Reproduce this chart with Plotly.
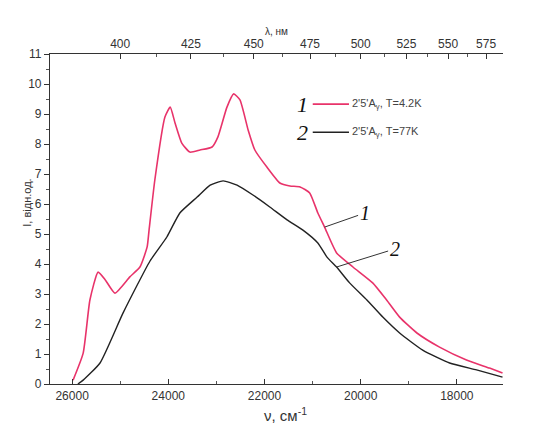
import plotly.graph_objects as go

# Luminescence spectra, wavenumber (cm^-1) vs intensity (arb. units)
nu_42K = [25980, 25770, 25630, 25460, 25310, 25110, 24800, 24590, 24440, 24400,
          24280, 24070, 23960, 23860, 23720, 23550, 23340, 23090, 22970, 22780,
          22640, 22510, 22340, 22200, 21950, 21680, 21470, 21260, 21060, 20890,
          20750, 20500, 20160, 19750, 19460, 19190, 18830, 18360, 17800, 17320,
          17050]
i_42K = [0.13, 1.03, 2.8, 3.73, 3.47, 3.03, 3.57, 3.9, 4.57, 5.13,
         6.8, 8.9, 9.23, 8.7, 8.03, 7.73, 7.8, 7.9, 8.23, 9.23,
         9.67, 9.47, 8.47, 7.8, 7.23, 6.7, 6.6, 6.57, 6.37, 5.7,
         5.23, 4.37, 3.9, 3.37, 2.8, 2.23, 1.7, 1.23, 0.8, 0.53,
         0.37]

nu_77K = [25880, 25770, 25420, 24940, 24380, 24030, 23760, 23400, 23130, 22860,
          22570, 22240, 21890, 21530, 21200, 20890, 20700, 20500, 20230, 19870,
          19540, 19190, 18710, 18150, 17590, 17050]
i_77K = [0.0, 0.13, 0.7, 2.37, 4.1, 4.9, 5.7, 6.23, 6.63, 6.77,
         6.63, 6.3, 5.9, 5.47, 5.13, 4.7, 4.23, 3.9, 3.37, 2.8,
         2.23, 1.7, 1.13, 0.7, 0.47, 0.23]

wavelength_nm = [400, 425, 450, 475, 500, 525, 550, 575]
wavelength_minor = [412.5, 437.5, 462.5, 487.5, 512.5, 537.5, 562.5]
bottom_ticks = [26000, 24000, 22000, 20000, 18000]

RED = "#e8336a"
BLACK = "#222222"
NU_RANGE = [26460, 17040]
FONT = "Liberation Sans"

fig = go.Figure()
fig.add_trace(go.Scatter(x=nu_42K, y=i_42K, mode="lines",
                         line=dict(color=RED, width=1.6, shape="spline", smoothing=0.5),
                         showlegend=False))
fig.add_trace(go.Scatter(x=nu_77K, y=i_77K, mode="lines",
                         line=dict(color=BLACK, width=1.4, shape="spline", smoothing=0.5),
                         showlegend=False))
# invisible traces to anchor the wavelength axes
fig.add_trace(go.Scatter(x=[NU_RANGE[0]], y=[0], xaxis="x2", mode="markers",
                         marker=dict(opacity=0), showlegend=False, hoverinfo="skip"))
fig.add_trace(go.Scatter(x=[NU_RANGE[0]], y=[0], xaxis="x3", mode="markers",
                         marker=dict(opacity=0), showlegend=False, hoverinfo="skip"))

tickfont = dict(family=FONT, size=12, color="#333")

fig.update_layout(
    width=540, height=423,
    margin=dict(l=50, r=37, t=54, b=39),
    paper_bgcolor="white", plot_bgcolor="white",
    xaxis=dict(range=NU_RANGE, tickvals=bottom_ticks,
               ticktext=[str(v) for v in bottom_ticks],
               ticks="inside", ticklen=5, tickcolor="#333",
               minor=dict(dtick=1000, ticks="inside", ticklen=3, tickcolor="#555"),
               showline=True, linecolor="#333", linewidth=1.2,
               showgrid=False, zeroline=False, tickfont=tickfont),
    xaxis2=dict(range=NU_RANGE, overlaying="x", side="top",
                tickvals=[1e7 / w for w in wavelength_nm],
                ticktext=[str(w) for w in wavelength_nm],
                ticks="inside", ticklen=5, tickcolor="#333",
                showline=True, linecolor="#333", linewidth=1.2,
                showgrid=False, zeroline=False, tickfont=tickfont),
    xaxis3=dict(range=NU_RANGE, overlaying="x", side="top",
                tickvals=[1e7 / w for w in wavelength_minor],
                showticklabels=False,
                ticks="inside", ticklen=3, tickcolor="#555",
                showline=False, showgrid=False, zeroline=False),
    yaxis=dict(range=[0, 11], dtick=1, ticks="outside", ticklen=5,
               tickcolor="#333",
               minor=dict(dtick=0.5, ticks="outside", ticklen=3, tickcolor="#555"),
               showline=True, linecolor="#333", linewidth=1.2,
               showgrid=False, zeroline=False, tickfont=tickfont),
)

# legend drawn by hand: italic numeral, line sample, label
legend_rows = [
    ("1", RED, "2'5'A<sub>γ</sub>, T=4.2K", 0.848),
    ("2", BLACK, "2'5'A<sub>γ</sub>, T=77K", 0.763),
]
for num, color, label, yp in legend_rows:
    fig.add_annotation(xref="paper", yref="paper", x=0.575, y=yp, text=f"<i>{num}</i>",
                       showarrow=False, xanchor="right", yanchor="middle",
                       font=dict(family="Liberation Serif", size=22, color="#111"))
    fig.add_shape(type="line", xref="paper", yref="paper",
                  x0=0.58, x1=0.66, y0=yp, y1=yp,
                  line=dict(color=color, width=1.6))
    fig.add_annotation(xref="paper", yref="paper", x=0.663, y=yp, text=label,
                       showarrow=False, xanchor="left", yanchor="middle",
                       font=dict(family=FONT, size=11, color="#444"))

# curve labels with leader lines
k1 = nu_42K.index(20750)
fig.add_annotation(x=nu_42K[k1], y=i_42K[k1], text="<i>1</i>", showarrow=True,
                   arrowhead=0, arrowwidth=1, arrowcolor="#333", ax=40, ay=-14,
                   font=dict(family="Liberation Serif", size=20, color="#111"))
k2 = nu_77K.index(20500)
fig.add_annotation(x=nu_77K[k2], y=i_77K[k2], text="<i>2</i>", showarrow=True,
                   arrowhead=0, arrowwidth=1, arrowcolor="#333", ax=58, ay=-18,
                   font=dict(family="Liberation Serif", size=20, color="#111"))

# axis titles
fig.add_annotation(xref="paper", yref="paper", x=-0.068, y=0.55,
                   text="I, відн.од.", textangle=-90, showarrow=False,
                   font=dict(family=FONT, size=11, color="#333"))
fig.add_annotation(xref="paper", yref="paper", x=0.5, y=1.0, yshift=30,
                   text="λ, нм", showarrow=False,
                   font=dict(family=FONT, size=10, color="#333"))
fig.add_annotation(xref="paper", yref="paper", x=0.52, y=0, yshift=-42,
                   text="ν, см<sup>-1</sup>", showarrow=False,
                   font=dict(family=FONT, size=15, color="#333"))

fig.write_html("out.html")
